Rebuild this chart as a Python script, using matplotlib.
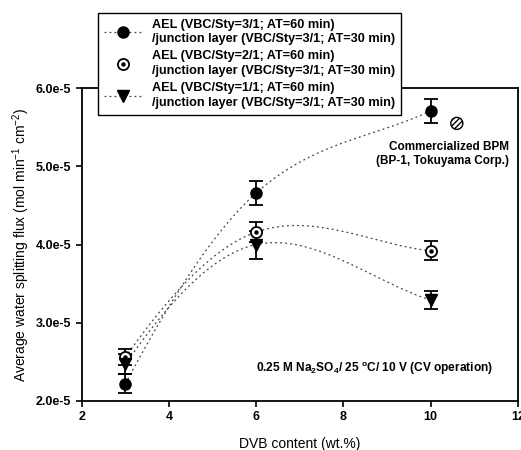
import numpy as np
import matplotlib
matplotlib.use("Agg")
import matplotlib.pyplot as plt
from matplotlib.legend_handler import HandlerTuple

plt.rcParams['font.family'] = ['Liberation Sans', 'DejaVu Sans']
plt.rcParams['hatch.linewidth'] = 1.0
plt.rcParams['mathtext.default'] = 'regular'

dvb = [3, 6, 10]
flux_31 = [2.22e-5, 4.66e-5, 5.71e-5]
err_31 = [0.12e-5, 0.15e-5, 0.15e-5]
flux_21 = [2.56e-5, 4.16e-5, 3.92e-5]
err_21 = [0.10e-5, 0.13e-5, 0.12e-5]
flux_11 = [2.47e-5, 4.00e-5, 3.29e-5]
err_11 = [0.13e-5, 0.18e-5, 0.12e-5]
bpm_x = [10.6]
bpm_y = [5.55e-5]

labels = [
    "AEL (VBC/Sty=3/1; AT=60 min)\n/junction layer (VBC/Sty=3/1; AT=30 min)",
    "AEL (VBC/Sty=2/1; AT=60 min)\n/junction layer (VBC/Sty=3/1; AT=30 min)",
    "AEL (VBC/Sty=1/1; AT=60 min)\n/junction layer (VBC/Sty=3/1; AT=30 min)",
]


def smooth_curve(x, y, n=100):
    # piecewise cubic hermite through the 3 points
    x = np.asarray(x, float)
    y = np.asarray(y, float)
    s01 = (y[1] - y[0]) / (x[1] - x[0])
    s12 = (y[2] - y[1]) / (x[2] - x[1])
    a = (s12 - s01) / (x[2] - x[0])
    m = [s01 - a * (x[1] - x[0]), (y[2] - y[0]) / (x[2] - x[0]), s12]
    xs_all, ys_all = [], []
    for i in range(2):
        h = x[i + 1] - x[i]
        t = np.linspace(0, 1, n)
        h00 = 2 * t**3 - 3 * t**2 + 1
        h10 = t**3 - 2 * t**2 + t
        h01 = -2 * t**3 + 3 * t**2
        h11 = t**3 - t**2
        xs_all.append(x[i] + t * h)
        ys_all.append(h00 * y[i] + h10 * h * m[i] + h01 * y[i + 1] + h11 * h * m[i + 1])
    return np.concatenate(xs_all), np.concatenate(ys_all)


fig = plt.figure(figsize=(5.21, 4.5), dpi=100)
ax = fig.add_axes([0.157, 0.109, 0.837, 0.695])

line_kw = dict(lw=0.9, ls=(0, (1.5, 2.5)))
line_col = '#444444'

for ys in (flux_31, flux_21, flux_11):
    cx, cy = smooth_curve(dvb, ys)
    ax.plot(cx, cy, color=line_col, **line_kw, zorder=1)

eb_kw = dict(ecolor='black', elinewidth=1.3, capsize=5, capthick=1.3, ls='none', zorder=3)
ax.errorbar(dvb, flux_31, yerr=err_31, fmt='o', ms=8, mfc='black', mec='black', **eb_kw)
ax.errorbar(dvb, flux_21, yerr=err_21, fmt='o', ms=8, mfc='white', mec='black', mew=1.3, **eb_kw)
ax.plot(dvb, flux_21, 'o', ms=2.2, color='black', zorder=4)
ax.errorbar(dvb, flux_11, yerr=err_11, fmt='v', ms=8, mfc='black', mec='black', **eb_kw)

ax.scatter(bpm_x, bpm_y, s=75, facecolor='white', edgecolor='black', hatch='//////', lw=1.0, zorder=3)

# legend handles
h1 = ax.plot([], [], marker='o', ms=8, mfc='black', mec='black', color=line_col, **line_kw)[0]
h2a = ax.plot([], [], marker='o', ms=8, mfc='white', mec='black', mew=1.3, ls='none')[0]
h2b = ax.plot([], [], marker='o', ms=2.2, color='black', ls='none')[0]
h3 = ax.plot([], [], marker='v', ms=8, mfc='black', mec='black', color=line_col, **line_kw)[0]
leg = fig.legend([h1, (h2a, h2b), h3], labels,
                 handler_map={tuple: HandlerTuple(ndivide=1, pad=0)},
                 loc='upper left', bbox_to_anchor=(98 / 521, 1 - 13 / 450), fontsize=9.1,
                 frameon=True, fancybox=False, edgecolor='black', framealpha=1,
                 handlelength=3.0, labelspacing=0.4, borderpad=0.45, borderaxespad=0,
                 handletextpad=0.8)
leg.get_frame().set_linewidth(1.0)
for t in leg.get_texts():
    t.set_fontweight('bold')
    t.set_linespacing(1.3)
leg.set_zorder(10)

ax.text(11.8, 5.32e-5, "Commercialized BPM\n(BP-1, Tokuyama Corp.)", ha='right', va='top',
        fontsize=8.5, fontweight='bold', linespacing=1.2)
ax.text(11.43, 2.42e-5, "0.25 M Na$_2$SO$_4$/ 25 $^o$C/ 10 V (CV operation)", ha='right', va='center',
        fontsize=8.6, fontweight='bold')

ax.set_xlim(2, 12)
ax.set_ylim(2e-5, 6e-5)
ax.set_xticks([2, 4, 6, 8, 10, 12])
ax.set_yticks([2e-5, 3e-5, 4e-5, 5e-5, 6e-5])
ax.set_yticklabels(["2.0e-5", "3.0e-5", "4.0e-5", "5.0e-5", "6.0e-5"])
ax.tick_params(direction='out', length=4, width=1.2, labelsize=9)
for t in ax.get_xticklabels() + ax.get_yticklabels():
    t.set_fontweight('bold')
for s in ax.spines.values():
    s.set_linewidth(1.3)

ax.set_xlabel("DVB content (wt.%)", fontsize=10, labelpad=10)
ax.set_ylabel("Average water splitting flux (mol min$^{-1}$ cm$^{-2}$)", fontsize=10, labelpad=3)

fig.savefig("out.png", dpi=100)
